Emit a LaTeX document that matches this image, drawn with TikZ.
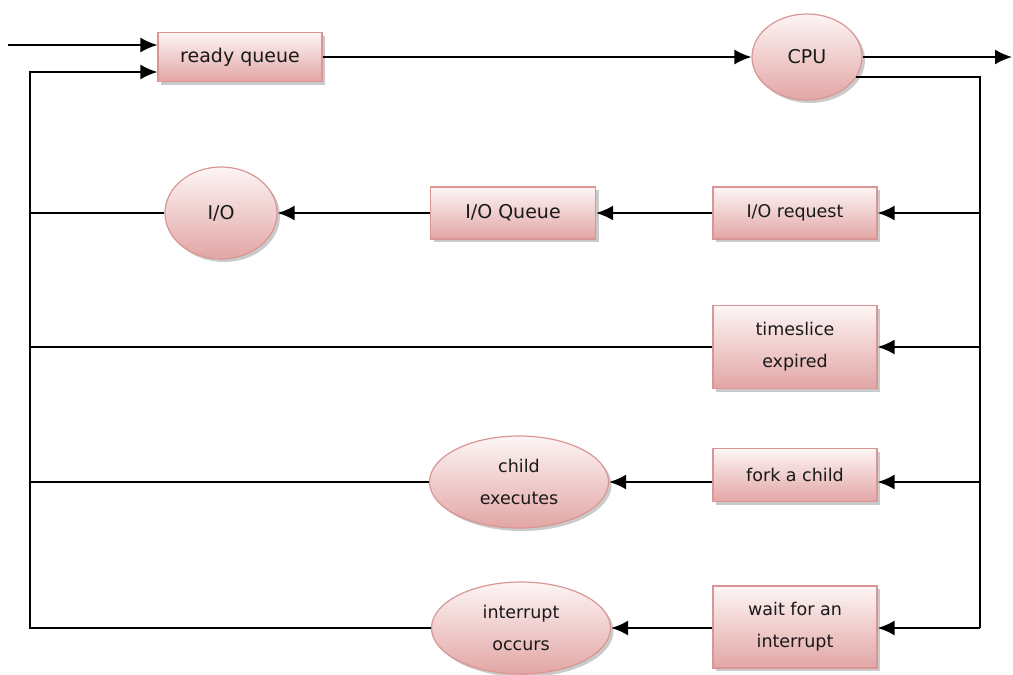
\documentclass[tikz,border=0pt]{standalone}
\usepackage{fontspec}
\setmainfont{DejaVu Sans}
\usetikzlibrary{shapes.geometric,shadows,arrows.meta,calc}
\definecolor{edge}{HTML}{D99694}
\definecolor{shadetop}{HTML}{FDF5F5}
\definecolor{shadebot}{HTML}{E2A6A5}
\begin{document}
\begin{tikzpicture}[x=1pt,y=-1pt,
  every node/.style={font=\fontsize{17.5}{32}\selectfont, text=black!90},
  big/.style={font=\fontsize{19}{32}\selectfont},
  base/.style={draw=edge, line width=1.2pt, top color=shadetop, bottom color=shadebot,
    inner sep=0pt, align=center,
    drop shadow={shadow xshift=3pt, shadow yshift=-3pt, fill=black!35, opacity=0.6}},
  box/.style={base, rectangle, minimum width=164pt, minimum height=51pt},
  oval/.style={base, ellipse},
  arr/.style={line width=1.9pt, -{Latex[length=17pt,width=15pt]}},
  ln/.style={line width=1.9pt}]
\useasboundingbox (0,0) rectangle (1013,675);

% process states and queues
\node[box, big, minimum height=49pt] (rq) at (240,57) {ready queue};
\node[oval, big, minimum width=110pt, minimum height=86pt] (cpu) at (807,57) {CPU};
\node[oval, big, minimum width=112pt, minimum height=92pt] (io) at (221,213) {I/O};
\node[box, big, minimum width=165pt, minimum height=52pt] (ioq) at (513,213) {I/O Queue};
\node[box, minimum height=52pt] (ioreq) at (795,213) {I/O request};
\node[box, minimum height=83pt] (ts) at (795,347) {timeslice\\expired};
\node[box, minimum height=53pt] (fork) at (795,475) {fork a child};
\node[oval, minimum width=179pt, minimum height=92pt] (child) at (519,482) {child\\executes};
\node[box, minimum height=82pt] (wait) at (795,627) {wait for an\\interrupt};
\node[oval, minimum width=179pt, minimum height=92pt] (intr) at (521,628) {interrupt\\occurs};

% bus end points
\coordinate (src) at (8,45);
\coordinate (exit) at (1012,57);
\coordinate (rbot) at (980,628);
\coordinate (fk) at (980,482);
\coordinate (lb) at (30,72);

% main flow
\draw[arr] (src) -- (src -| rq.west);
\draw[arr] (rq) -- (cpu);
\draw[arr] (cpu) -- (exit);

% right-hand distribution bus
\draw[ln] (cpu.-22) -| (rbot);
\draw[arr] (rbot) -- (rbot -| wait.east);
\draw[arr] (ioreq.east -| rbot) -- (ioreq.east);
\draw[arr] (ts.east -| rbot) -- (ts.east);
\draw[arr] (fk) -- (fk -| fork.east);

% branches
\draw[arr] (ioreq) -- (ioq);
\draw[arr] (ioq) -- (io);
\draw[arr] (fork.west |- child) -- (child);
\draw[arr] (wait.west |- intr) -- (intr);

% left-hand return bus
\draw[arr] (intr.west) -| (lb) -- (lb -| rq.west);
\draw[ln] (child.west) -- (child.west -| lb);
\draw[ln] (ts.west) -- (ts.west -| lb);
\draw[ln] (io.west) -- (io.west -| lb);
\end{tikzpicture}
\end{document}
